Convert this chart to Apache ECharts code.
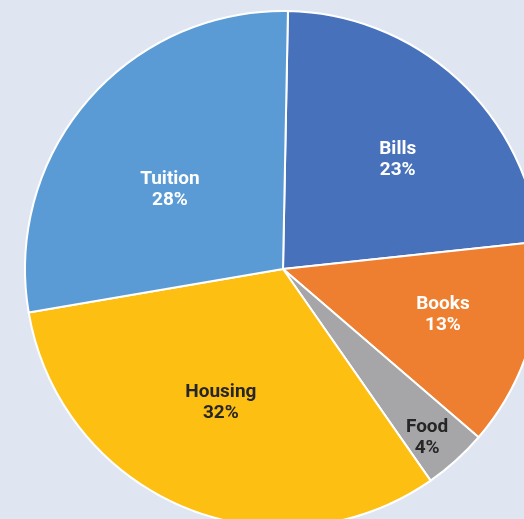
<!DOCTYPE html>
<html>
<head>
<meta charset="utf-8">
<script src="https://cdn.jsdelivr.net/npm/echarts@6/dist/echarts.min.js"></script>
<style>
  html, body { margin: 0; padding: 0; background: #dfe6f2; }
  #chart { width: 524px; height: 519px; }
</style>
</head>
<body>
<div id="chart"></div>
<script>
// 支出构成饼图
var categories = ['Bills', 'Books', 'Food', 'Housing', 'Tuition'];
var values = [23, 13, 4, 32, 28];
var colors = ['#4871bb', '#ee7f31', '#a6a6a8', '#fdbf12', '#5b9bd5'];
var labelColors = ['#fff', '#fff', '#262626', '#262626', '#fff'];

var cx = 283, cy = 269, R = 258, start = 88.9;
// label placement: angle from 12 o'clock (clockwise) and distance as share of radius
var labelAngle = [46.3, 106.0, 139.5, 205.0, 305.0];
var labelRatio = [0.615, 0.645, 0.86, 0.57, 0.535];

var chart = echarts.init(document.getElementById('chart'));
chart.setOption({
    backgroundColor: '#dfe6f2',
    animation: false,
    series: [
        {
            type: 'pie',
            center: [cx, cy],
            radius: R,
            startAngle: start,
            clockwise: true,
            itemStyle: {
                borderColor: '#fff',
                borderWidth: 2
            },
            label: {
                show: true,
                position: 'inside',
                formatter: '{b}\n{d}%',
                fontFamily: 'Roboto',
                fontWeight: 'bold',
                fontSize: 19,
                lineHeight: 21
            },
            labelLine: { show: false },
            labelLayout: function (p) {
                var a = labelAngle[p.dataIndex] * Math.PI / 180;
                var k = labelRatio[p.dataIndex];
                return {
                    x: cx + k * R * Math.sin(a),
                    y: cy - k * R * Math.cos(a),
                    align: 'center',
                    verticalAlign: 'middle'
                };
            },
            data: categories.map(function (c, i) {
                return {
                    name: c,
                    value: values[i],
                    itemStyle: { color: colors[i] },
                    label: { color: labelColors[i] }
                };
            })
        }
    ]
});
</script>
</body>
</html>
